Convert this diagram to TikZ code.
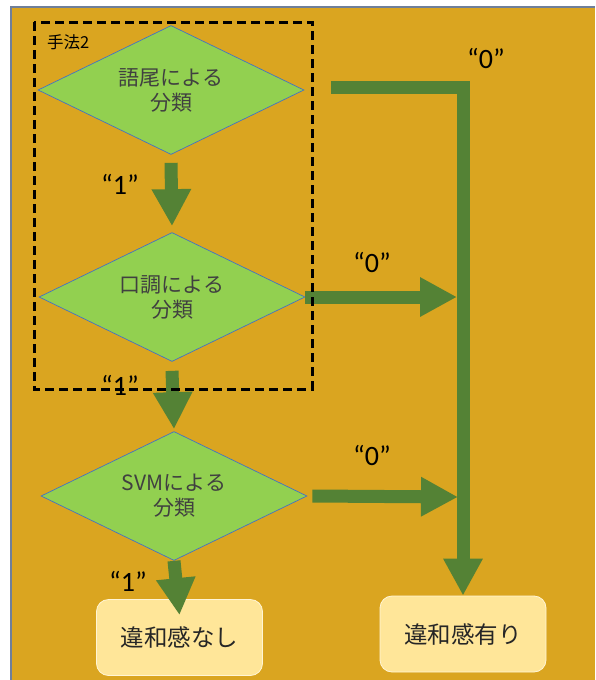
\documentclass[tikz,border=0pt]{standalone}
\usepackage{fontspec}
\setmainfont{Carlito}
\newfontfamily\jpfont{Noto Sans CJK JP}
\usetikzlibrary{shapes.geometric,arrows.meta}

\definecolor{bggold}{HTML}{DAA520}
\definecolor{leaf}{HTML}{92D050}
\definecolor{edgeblue}{HTML}{4472C4}
\definecolor{flowgreen}{HTML}{548235}
\definecolor{cream}{HTML}{FFE699}
\definecolor{ink}{HTML}{404040}
\definecolor{frameline}{HTML}{6F7F9A}

\tikzset{
  decision/.style={diamond, aspect=2, draw=edgeblue, line width=0.7pt, fill=leaf,
    minimum width=266pt, minimum height=129pt, inner sep=0pt, align=center,
    font=\jpfont\fontsize{21}{25}\selectfont, text=ink},
  result/.style={rectangle, rounded corners=12pt, draw=cream!40!white, fill=cream,
    line width=0.8pt, minimum width=166pt, minimum height=76pt,
    font=\jpfont\fontsize{23.5}{27}\selectfont, text=black!85},
  flow/.style={draw=flowgreen, line width=13pt, -{Triangle[length=37pt,width=37pt]}},
  bit/.style={font=\fontsize{28}{30}\selectfont, text=black, inner sep=0pt},
  group/.style={draw=black, line width=3pt, dash pattern=on 9pt off 5pt},
}

\begin{document}
\begin{tikzpicture}[x=1pt, y=-1pt]
  \useasboundingbox (0,0) rectangle (595,680);
  % page background and frame
  \fill[white] (0,0) rectangle (595,680);
  \fill[bggold] (11,7) rectangle (595,680);
  \draw[frameline, line width=1.5pt] (11,680) -- (11,7) -- (595,7);

  % decision steps
  \node[decision] (d1) at (171,90)  {語尾による\\分類};
  \node[decision] (d2) at (172,297) {口調による\\分類};
  \node[decision] (d3) at (174,496) {SVMによる\\分類};

  % outcomes
  \node[result] (n1) at (179.5,637.5) {違和感なし};
  \node[result] (n2) at (463,634)     {違和感有り};

  % junction points on the collecting line
  \coordinate (t0) at (331,87);
  \coordinate (j2) at (457,297);
  \coordinate (j3) at (458,497);

  % flows
  \draw[flow] ([yshift=-8pt]d1.south) -- ([yshift=6pt]d2.north);
  \draw[flow] ([yshift=-9pt]d2.south) -- ([yshift=2pt]d3.north);
  \draw[flow] (d3.south) -- ([yshift=-16pt]n1.north);
  \draw[flow] (t0) -| (n2.north);
  \draw[flow] (d2.east) -- (j2);
  \draw[flow] ([xshift=5pt]d3.east) -- (j3);

  % method group
  \draw[group] (34,22) rectangle (312,389);
  \node[font=\jpfont\fontsize{16.5}{18}\selectfont, text=black, anchor=west, inner sep=0pt] (m2) at (47,42) {手法2};

  % branch values
  \node[bit] (b1) at (120,184) {“1”};
  \node[bit] (b2) at (120,385) {“1”};
  \node[bit] (b3) at (128,581) {“1”};
  \node[bit] (z1) at (486,58)  {“0”};
  \node[bit] (z2) at (372,262) {“0”};
  \node[bit] (z3) at (372,455) {“0”};
\end{tikzpicture}
\end{document}
